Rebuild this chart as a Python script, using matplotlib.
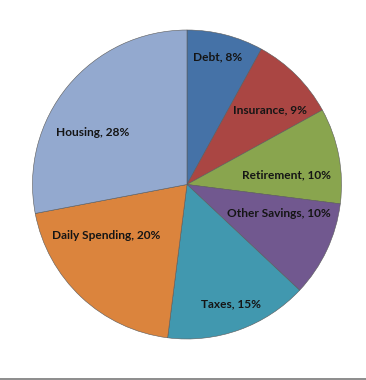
import numpy as np
import matplotlib
matplotlib.use('Agg')
import matplotlib.pyplot as plt
from matplotlib.lines import Line2D

# ─────────────────────────────────────────────
# Data
# ─────────────────────────────────────────────
CATEGORIES = ['Debt', 'Insurance', 'Retirement', 'Other Savings',
              'Taxes', 'Daily Spending', 'Housing']
SHARES = [8, 9, 10, 10, 15, 20, 28]
LABELS = ['Debt, 8%', 'Insurance, 9%', 'Retirement, 10%', 'Other Savings, 10%',
          'Taxes, 15%', 'Daily Spending, 20%', 'Housing, 28%']

COLORS = ['#4572A7', '#AA4643', '#89A54E', '#71588F',
          '#4198AF', '#DB843D', '#93A9CF']

# label placement: radial distance (fraction of radius) and angular nudge (deg)
LABEL_R = [0.85, 0.72, 0.65, 0.62, 0.82, 0.62, 0.70]
LABEL_DA = [0.7, -3.0, -5.4, 7.8, 0.4, -14.3, 10.6]

plt.rcParams['font.family'] = ['Lato', 'DejaVu Sans']

fig = plt.figure(figsize=(3.66, 3.80), dpi=100)
ax = fig.add_axes([32.5 / 366, 41 / 380, 309 / 366, 309 / 380])

wedges, _ = ax.pie(SHARES, colors=COLORS, startangle=90, counterclock=False,
                   radius=1.0,
                   wedgeprops=dict(edgecolor='#5a5a5a', linewidth=0.4))

for w, lab, r, da in zip(wedges, LABELS, LABEL_R, LABEL_DA):
    mid = np.deg2rad((w.theta1 + w.theta2) / 2 + da)
    ax.text(r * np.cos(mid), r * np.sin(mid), lab, ha='center', va='center',
            fontsize=8.6, fontweight='bold', color='#151515')

ax.set_xlim(-1, 1)
ax.set_ylim(-1, 1)
ax.set_aspect('equal')
ax.axis('off')

# bottom border line
fig.add_artist(Line2D([0, 1], [1.2 / 380, 1.2 / 380], transform=fig.transFigure,
                      color='#8c8c8c', linewidth=1.4))

fig.savefig('out.png', dpi=100)
